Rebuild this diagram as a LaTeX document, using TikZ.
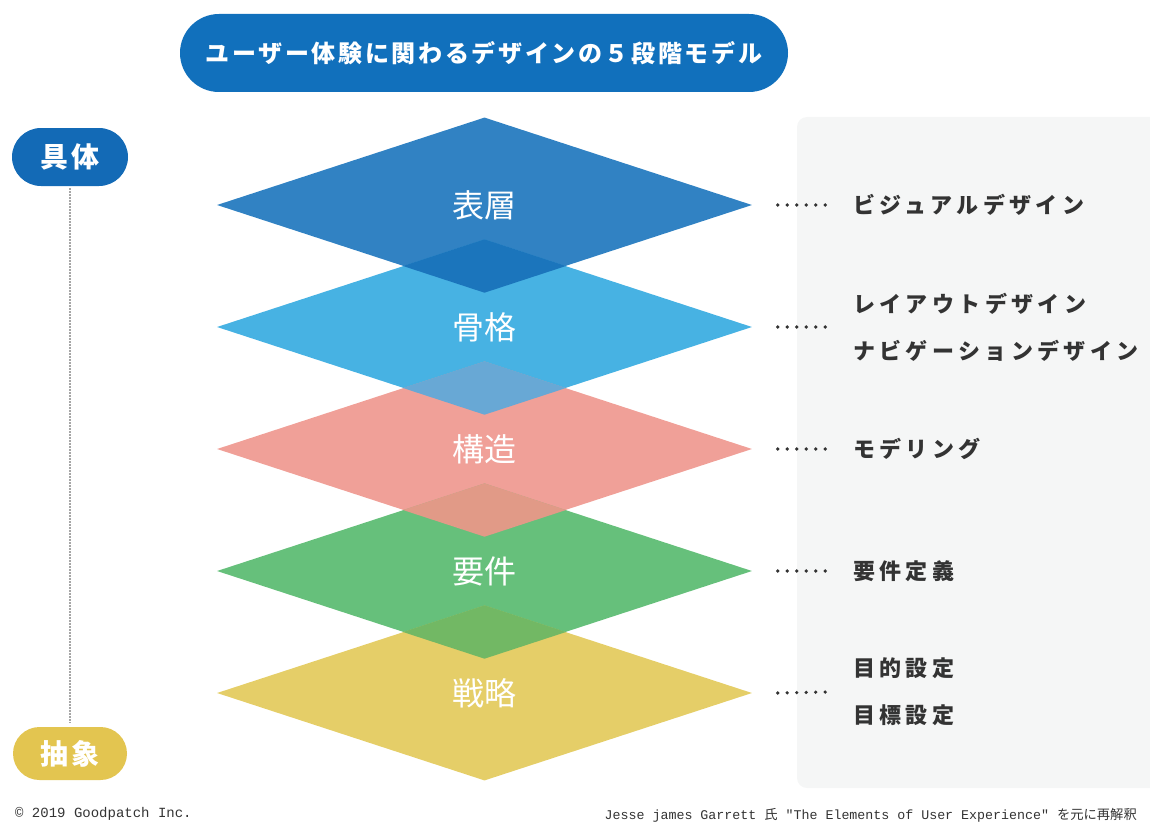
\documentclass[tikz,border=0pt]{standalone}
\usepackage{fontspec}
\usetikzlibrary{shapes.geometric}
\newfontfamily\jp{Noto Sans CJK JP}
\newfontfamily\jptitle[LetterSpace=11]{Noto Sans CJK JP}
\newfontfamily\jplabel[LetterSpace=20]{Noto Sans CJK JP}
\newfontfamily\jppill[LetterSpace=14]{Noto Sans CJK JP}
\newfontfamily\monofoot{Liberation Mono}
\definecolor{titleblue}{HTML}{1170BC}
\definecolor{pillblue}{HTML}{136AB6}
\definecolor{pillyellow}{HTML}{E3C550}
\definecolor{panelgray}{HTML}{F5F6F6}
\definecolor{textgray}{HTML}{333333}
\definecolor{surfacec}{HTML}{3182C3}
\definecolor{skeletonc}{HTML}{47B2E3}
\definecolor{structurec}{HTML}{F0A098}
\definecolor{scopec}{HTML}{66C07B}
\definecolor{strategyc}{HTML}{E5CE68}
\definecolor{overA}{HTML}{1B75BC}
\definecolor{overB}{HTML}{68A8D5}
\definecolor{overC}{HTML}{E19A87}
\definecolor{overD}{HTML}{72B864}
\tikzset{
 layer/.style={diamond, minimum width=535, minimum height=175, inner sep=0pt,
  text=white, font=\jp\fontsize{32}{36}\selectfont},
 pill/.style={rectangle, inner sep=0pt, text=white,
  font=\jppill\bfseries\fontsize{28}{32}\selectfont},
 rlabel/.style={anchor=west, inner sep=0pt, align=left, text=textgray,
  font=\jplabel\bfseries\fontsize{22}{47}\selectfont},
 leader/.style={textgray, line width=3.6pt, line cap=round, dash pattern=on 0pt off 9.5pt},
 axisline/.style={gray!70, line width=1.2pt, dash pattern=on 1.5pt off 1.5pt},
 footnote/.style={inner sep=0pt, text=textgray}
}
\begin{document}
\begin{tikzpicture}[x=1pt,y=-1pt]
 \useasboundingbox (0,0) rectangle (1150,824);
 \clip (0,0) rectangle (1150,824);
 \fill [panelgray, rounded corners=10] (797,117) rectangle (1175,788);
 \node [pill, fill=titleblue, minimum width=608, minimum height=78, rounded corners=39,
  font=\jptitle\bfseries\fontsize{24}{28}\selectfont] (title) at (484,53)
  {ユーザー体験に関わるデザインの５段階モデル};
 \node [pill, fill=pillblue, minimum width=116, minimum height=58, rounded corners=29] (gutai) at (70,157) {具体};
 \node [pill, fill=pillyellow, minimum width=114, minimum height=53, rounded corners=26.5] (chusho) at (70,753.5) {抽象};
 \draw [axisline, shorten <=2pt, shorten >=4pt] (gutai.south) -- (chusho.north);
 \foreach \n/\t/\c [count=\i] in {surface/表層/surfacec, skeleton/骨格/skeletonc,
   structure/構造/structurec, scope/要件/scopec, strategy/戦略/strategyc}
  \node [layer, fill=\c] (\n) at (484.5,83+122*\i) {\t};
 \foreach \a/\b/\c in {surface/skeleton/overA, skeleton/structure/overB,
   structure/scope/overC, scope/strategy/overD} {
  \begin{scope}
   \clip (\a.north) -- (\a.east) -- (\a.south) -- (\a.west) -- cycle;
   \fill [\c] (\b.north) -- (\b.east) -- (\b.south) -- (\b.west) -- cycle;
  \end{scope}
 }
 \node [rlabel] (visual) at (853,205) {ビジュアルデザイン};
 \node [rlabel] (layout) at (853,327) {レイアウトデザイン\\ナビゲーションデザイン};
 \node [rlabel] (model) at (853,449) {モデリング};
 \node [rlabel] (require) at (853,571) {要件定義};
 \node [rlabel] (goal) at (853,692) {目的設定\\目標設定};
 \draw [leader] ([xshift=25.5]surface.east) -- ([xshift=-26.5]visual.west);
 \draw [leader] ([xshift=25.5]skeleton.east) -- ([xshift=-26.5]layout.west);
 \draw [leader] ([xshift=25.5]structure.east) -- ([xshift=-26.5]model.west);
 \draw [leader] ([xshift=25.5]scope.east) -- ([xshift=-26.5]require.west);
 \draw [leader] ([xshift=25.5]strategy.east) -- ([xshift=-26.5]goal.west);
 \node [footnote, anchor=west, font=\monofoot\fontsize{14}{16}\selectfont] (copy) at (15,814)
  {© 2019 Goodpatch Inc.};
 \node [footnote, anchor=east, font=\monofoot\fontsize{13.3}{16}\selectfont] (source) at (1137,815)
  {Jesse james Garrett {\jp 氏} "The Elements of User Experience" {\jp を元に再解釈}};
\end{tikzpicture}
\end{document}
